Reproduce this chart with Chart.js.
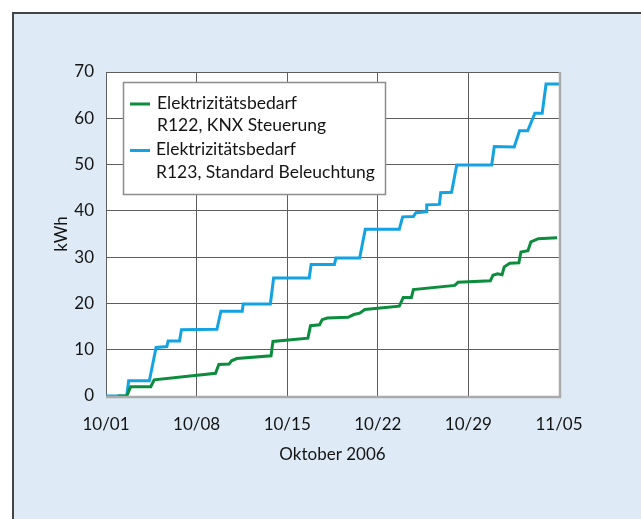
<!DOCTYPE html>
<html>
<head>
<meta charset="utf-8">
<script src="https://cdn.jsdelivr.net/npm/chart.js@4.4.0/dist/chart.umd.min.js"></script>
<style>
  html, body { margin: 0; padding: 0; background: #fff; }
  #panel { position: absolute; left: 12px; top: 12px; width: 629px; height: 507px; background: #deebf7;
           border-left: 2px solid #444; border-top: 2px solid #444; box-sizing: border-box; }
  #wrap { position: absolute; left: 0; top: 0; width: 641px; height: 519px; }
</style>
</head>
<body>
<div id="panel"></div>
<div id="wrap"><canvas id="verbrauch"></canvas></div>
<script>
// Tage ab 01.10.2006, kumulierter Verbrauch in kWh
const xTickLabels = ['10/01', '10/08', '10/15', '10/22', '10/29', '11/05'];

const knxTage = [0.9, 1.6, 1.91, 3.46, 3.72, 8.46, 8.72, 9.5, 9.7, 10.1, 12.75, 12.9, 15.6, 15.8, 16.5, 16.7, 17.1, 18.7,
                 19.15, 19.6, 20.0, 22.66, 22.97, 23.6, 23.75, 26.95, 27.2, 29.7, 29.9, 30.25, 30.6, 30.77, 31.2, 31.9,
                 32.06, 32.6, 32.83, 33.4, 34.85];
const knxKwh = [0, 0, 2.0, 2.0, 3.5, 4.9, 6.8, 6.9, 7.6, 8.1, 8.7, 11.8, 12.5, 15.2, 15.4, 16.5, 16.85, 17.0,
                17.6, 17.9, 18.7, 19.4, 21.3, 21.3, 23.0, 23.9, 24.6, 24.9, 26.1, 26.4, 26.2, 27.9, 28.7, 28.8,
                31.1, 31.4, 33.3, 34.0, 34.2];

const stdTage = [0, 1.6, 1.75, 3.35, 3.87, 4.7, 4.8, 5.68, 5.83, 8.57, 8.88, 10.53, 10.6, 12.7, 12.95, 15.7, 15.85,
                 17.65, 17.76, 19.6, 20.03, 22.66, 22.92, 23.75, 23.95, 24.73, 24.78, 25.76, 25.86, 26.7, 27.1, 29.8,
                 30.0, 31.54, 31.95, 32.58, 33.14, 33.7, 34.0, 35];
const stdKwh = [0, 0, 3.3, 3.3, 10.5, 10.7, 11.9, 11.9, 14.3, 14.4, 18.3, 18.3, 19.9, 19.9, 25.5, 25.5, 28.4,
                28.4, 29.8, 29.8, 36.0, 36.0, 38.7, 38.8, 39.6, 39.8, 41.3, 41.4, 43.9, 44.0, 49.9, 49.9,
                53.9, 53.8, 57.3, 57.3, 61.1, 61.1, 67.4, 67.4];

const labelKnx = ['Elektrizitätsbedarf', 'R122, KNX Steuerung'];
const labelStd = ['Elektrizitätsbedarf', 'R123, Standard Beleuchtung'];

function punkte(tage, werte) {
    return tage.map((t, i) => ({ x: t, y: werte[i] }));
}

const plotFrame = {
    id: 'plotFrame',
    beforeDraw(chart) {
        const { ctx, chartArea: a } = chart;
        ctx.save();
        ctx.fillStyle = '#fff';
        ctx.fillRect(a.left, a.top, a.right - a.left, a.bottom - a.top);
        ctx.restore();
    },
    afterDatasetsDraw(chart) {
        const { ctx, chartArea: a } = chart;
        ctx.save();
        ctx.strokeStyle = '#ababab';
        ctx.lineWidth = 2.5;
        ctx.beginPath();
        ctx.moveTo(a.left, a.bottom + 1);
        ctx.lineTo(a.right + 1, a.bottom + 1);
        ctx.lineTo(a.right + 1, a.top);
        ctx.stroke();
        ctx.restore();
    }
};

const legendBox = {
    id: 'legendBox',
    afterDatasetsDraw(chart) {
        const { ctx, chartArea } = chart;
        const x = chartArea.left + 17, y = chartArea.top + 10, w = 262, h = 112;
        ctx.save();
        ctx.fillStyle = '#fff';
        ctx.fillRect(x, y, w, h);
        ctx.strokeStyle = '#8c8c8c';
        ctx.lineWidth = 1.5;
        ctx.strokeRect(x + 0.5, y + 0.5, w, h);
        ctx.font = '17.5px Lato';
        ctx.textBaseline = 'middle';
        chart.data.datasets.forEach((ds, i) => {
            const mitte = y + 22 + i * 46.5;
            ctx.strokeStyle = ds.borderColor;
            ctx.lineWidth = 3;
            ctx.beginPath();
            ctx.moveTo(x + 7, mitte);
            ctx.lineTo(x + 27, mitte);
            ctx.stroke();
            ctx.fillStyle = '#141414';
            ds.label.forEach((zeile, j) => ctx.fillText(zeile, x + 34 - i, mitte - 1 + j * 22.5));
        });
        ctx.restore();
    }
};

const ctx = document.getElementById('verbrauch').getContext('2d');
const verbrauchChart = new Chart(ctx, {
    type: 'line',
    data: {
        datasets: [{
            label: labelKnx,
            data: punkte(knxTage, knxKwh),
            borderColor: '#0b8d3d',
            borderWidth: 3,
            pointRadius: 0,
            lineTension: 0,
            fill: false
        }, {
            label: labelStd,
            data: punkte(stdTage, stdKwh),
            borderColor: '#14a3e2',
            borderWidth: 3,
            pointRadius: 0,
            lineTension: 0,
            fill: false
        }]
    },
    options: {
        responsive: true,
        maintainAspectRatio: false,
        animation: false,
        layout: { padding: { left: 40, top: 72, right: 82, bottom: 54 } },
        plugins: {
            legend: { display: false },
            tooltip: { enabled: false }
        },
        scales: {
            x: {
                type: 'linear',
                min: 0,
                max: 35,
                afterFit: (scale) => { scale.height = 69; },
                ticks: {
                    stepSize: 7,
                    padding: 18,
                    color: '#141414',
                    font: { family: 'Lato', size: 17 },
                    maxRotation: 0,
                    callback: (v) => xTickLabels[v / 7]
                },
                grid: { color: '#5e5e5e', lineWidth: 1, drawTicks: false },
                border: { color: '#5e5e5e' },
                title: {
                    display: true,
                    text: 'Oktober 2006',
                    color: '#141414',
                    font: { family: 'Lato', size: 17 },
                    padding: { top: 8, bottom: 0 }
                }
            },
            y: {
                min: 0,
                max: 70,
                afterFit: (scale) => { scale.width = 66; },
                ticks: {
                    stepSize: 10,
                    padding: 12,
                    color: '#141414',
                    font: { family: 'Lato', size: 17 }
                },
                grid: { color: '#5e5e5e', lineWidth: 1, drawTicks: false },
                border: { color: '#5e5e5e' },
                title: {
                    display: true,
                    text: 'kWh',
                    color: '#141414',
                    font: { family: 'Lato', size: 17 },
                    padding: { top: 11, bottom: 0 }
                }
            }
        }
    },
    plugins: [plotFrame, legendBox]
});
</script>
</body>
</html>
